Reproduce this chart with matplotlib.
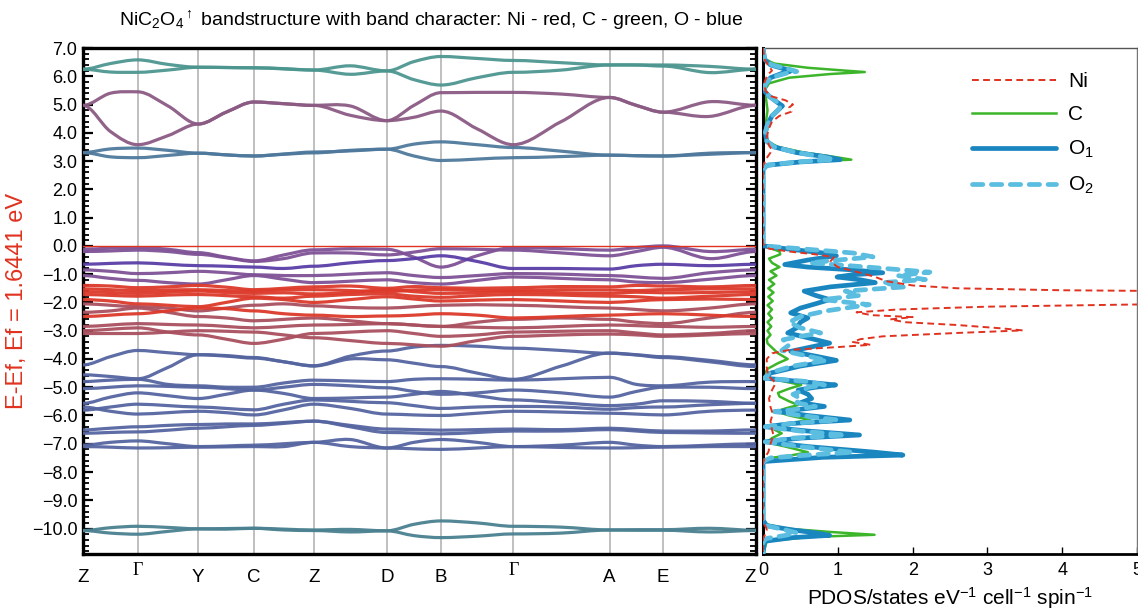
import numpy as np
import matplotlib
matplotlib.use("Agg")
import matplotlib.pyplot as plt
from matplotlib.path import Path
from matplotlib.patches import PathPatch
from matplotlib import font_manager
from matplotlib.ticker import MultipleLocator, FuncFormatter

# ---- data -------------------------------------------------------------
# k-path (x positions along path) and labels
k_pos = [0, 54.5, 115, 170.5, 230, 303, 357, 429, 525, 578.5, 671]
k_labels = ["Z", "Γ", "Y", "C", "Z", "D", "B", "Γ", "A", "E", "Z"]

# bands: energies at each k-point and at each segment middle
# order: Z m Γ m Y m C m Z m D m B m Γ m A m E m Z
bands_teal = [
    [6.25, 6.45, 6.58, 6.42, 6.32, 6.31, 6.30, 6.27, 6.22, 6.37, 6.19, 6.52, 6.70, 6.63, 6.56, 6.48, 6.40, 6.40, 6.40, 6.35, 6.25],
    [6.25, 6.15, 6.14, 6.22, 6.32, 6.31, 6.30, 6.26, 6.22, 6.07, 6.19, 5.88, 5.69, 5.95, 6.14, 6.22, 6.40, 6.40, 6.36, 6.13, 6.25],
]
bands_mauve = [
    [4.97, 5.40, 5.45, 4.95, 4.31, 4.73, 5.09, 5.03, 4.97, 4.95, 4.43, 4.97, 5.42, 5.43, 5.43, 5.37, 5.25, 4.97, 4.73, 5.10, 4.97],
    [4.97, 4.05, 3.58, 3.90, 4.31, 4.73, 5.09, 5.03, 4.97, 4.62, 4.43, 4.55, 4.77, 4.14, 3.58, 4.40, 5.25, 4.97, 4.73, 4.58, 4.97],
]
bands_cond = [
    [3.30, 3.43, 3.46, 3.38, 3.28, 3.22, 3.18, 3.25, 3.32, 3.36, 3.42, 3.60, 3.68, 3.58, 3.48, 3.35, 3.21, 3.19, 3.18, 3.28, 3.30],
    [3.30, 3.15, 3.12, 3.20, 3.28, 3.22, 3.18, 3.24, 3.29, 3.38, 3.42, 3.18, 3.02, 3.07, 3.12, 3.16, 3.21, 3.19, 3.18, 3.24, 3.30],
]
bands_purple = [
    [-0.12, -0.08, -0.06, -0.12, -0.24, -0.40, -0.53, -0.32, -0.14, -0.10, -0.12, -0.40, -0.75, -0.35, -0.06, -0.10, -0.15, -0.06, 0.0, -0.20, -0.12],
    [-0.20, -0.18, -0.15, -0.20, -0.30, -0.42, -0.55, -0.45, -0.25, -0.25, -0.32, -0.22, -0.10, -0.12, -0.15, -0.25, -0.35, -0.20, -0.05, -0.45, -0.20],
    [-0.85, -0.90, -0.98, -0.95, -0.90, -0.95, -1.02, -1.05, -1.05, -1.00, -0.95, -1.05, -1.12, -1.05, -0.98, -1.00, -1.05, -1.10, -1.15, -0.95, -0.85],
    [-1.05, -1.15, -1.22, -1.30, -1.35, -1.20, -1.05, -1.18, -1.30, -1.25, -1.20, -1.30, -1.35, -1.22, -1.10, -1.15, -1.20, -1.28, -1.30, -1.18, -1.05],
]
bands_indigo = [
    [-0.65, -0.62, -0.60, -0.65, -0.70, -0.72, -0.75, -0.80, -0.72, -0.60, -0.52, -0.45, -0.35, -0.55, -0.80, -0.80, -0.82, -0.70, -0.65, -0.70, -0.65],
]
bands_red = [
    [-1.40, -1.42, -1.48, -1.45, -1.40, -1.46, -1.55, -1.50, -1.45, -1.42, -1.50, -1.44, -1.48, -1.50, -1.48, -1.44, -1.45, -1.40, -1.42, -1.45, -1.40],
    [-1.52, -1.55, -1.58, -1.56, -1.55, -1.58, -1.60, -1.56, -1.55, -1.58, -1.62, -1.56, -1.55, -1.58, -1.58, -1.55, -1.56, -1.58, -1.55, -1.52, -1.52],
    [-1.62, -1.65, -1.68, -1.64, -1.60, -1.65, -1.68, -1.66, -1.70, -1.65, -1.55, -1.62, -1.68, -1.66, -1.62, -1.66, -1.68, -1.64, -1.66, -1.65, -1.62],
    [-1.72, -1.75, -1.78, -1.74, -1.72, -1.76, -1.80, -1.85, -1.78, -1.72, -1.70, -1.78, -1.82, -1.76, -1.72, -1.74, -1.78, -1.80, -1.85, -1.78, -1.72],
    [-1.90, -1.95, -2.05, -2.10, -2.15, -2.00, -1.85, -1.90, -2.00, -1.90, -1.80, -1.88, -1.95, -1.92, -1.90, -1.95, -2.00, -1.95, -1.90, -1.88, -1.90],
    [-2.50, -2.45, -2.40, -2.30, -2.20, -2.22, -2.30, -2.40, -2.45, -2.50, -2.48, -2.45, -2.40, -2.45, -2.55, -2.50, -2.45, -2.42, -2.40, -2.45, -2.50],
]
bands_redmauve = [
    [-2.05, -2.10, -2.15, -2.20, -2.30, -2.20, -2.10, -2.05, -2.12, -2.18, -2.20, -2.15, -2.10, -2.08, -2.10, -2.15, -2.20, -2.25, -2.30, -2.20, -2.05],
    [-2.35, -2.30, -2.20, -2.35, -2.50, -2.55, -2.65, -2.60, -2.55, -2.65, -2.75, -2.80, -2.85, -2.70, -2.60, -2.55, -2.60, -2.70, -2.75, -2.55, -2.35],
    [-2.85, -2.80, -2.75, -2.78, -2.80, -2.85, -2.90, -2.85, -2.80, -2.78, -2.75, -2.80, -2.85, -2.88, -2.90, -2.85, -2.80, -2.82, -2.85, -2.88, -2.85],
    [-3.00, -2.95, -2.90, -3.05, -3.15, -3.30, -3.45, -3.30, -3.10, -3.05, -3.00, -3.10, -3.20, -3.15, -3.05, -3.02, -3.00, -3.08, -3.15, -3.10, -3.00],
    [-3.10, -3.10, -3.10, -3.05, -3.00, -3.02, -3.05, -3.15, -3.25, -3.35, -3.45, -3.50, -3.55, -3.35, -3.20, -3.15, -3.12, -3.15, -3.20, -3.15, -3.10],
]
bands_blue = [
    [-4.21, -3.92, -3.70, -3.78, -3.85, -3.90, -3.97, -4.10, -4.25, -4.00, -4.03, -4.15, -4.27, -4.50, -4.72, -4.25, -3.79, -3.85, -3.92, -4.05, -4.21],
    [-4.56, -4.62, -4.70, -4.30, -3.85, -3.88, -3.95, -4.10, -4.24, -3.90, -3.72, -3.58, -3.52, -3.55, -3.62, -3.70, -3.80, -3.86, -3.95, -4.10, -4.27],
    [-4.80, -4.75, -4.72, -4.90, -4.95, -5.00, -5.00, -4.85, -4.75, -4.78, -4.80, -4.72, -4.70, -4.72, -4.75, -4.70, -4.65, -4.90, -4.95, -4.82, -4.80],
    [-5.05, -5.00, -4.95, -4.97, -5.00, -5.05, -5.10, -5.00, -4.90, -4.95, -5.02, -5.15, -5.25, -5.20, -5.10, -5.20, -5.35, -5.15, -5.00, -5.00, -5.05],
    [-5.57, -5.35, -5.20, -5.30, -5.40, -5.25, -5.10, -5.22, -5.40, -5.38, -5.35, -5.25, -5.15, -5.30, -5.45, -5.55, -5.65, -5.60, -5.48, -5.50, -5.57],
    [-5.81, -5.70, -5.60, -5.65, -5.70, -5.75, -5.80, -5.60, -5.45, -5.50, -5.55, -5.65, -5.75, -5.70, -5.68, -5.70, -5.78, -5.72, -5.70, -5.62, -5.57],
    [-5.70, -5.85, -5.95, -5.90, -5.85, -5.90, -5.98, -5.80, -5.60, -5.75, -5.95, -5.98, -6.00, -5.92, -5.85, -5.88, -5.92, -5.95, -5.98, -5.85, -5.81],
    [-6.51, -6.45, -6.40, -6.35, -6.32, -6.30, -6.30, -6.25, -6.20, -6.35, -6.48, -6.50, -6.52, -6.50, -6.48, -6.50, -6.45, -6.50, -6.55, -6.55, -6.51],
    [-6.63, -6.60, -6.58, -6.52, -6.45, -6.40, -6.35, -6.28, -6.20, -6.40, -6.60, -6.62, -6.65, -6.60, -6.55, -6.55, -6.50, -6.55, -6.60, -6.62, -6.63],
    [-7.05, -6.95, -6.90, -7.00, -7.10, -7.08, -7.05, -7.00, -6.95, -6.85, -7.15, -6.95, -6.85, -6.95, -7.10, -7.05, -6.95, -7.05, -7.10, -7.05, -7.00],
    [-7.10, -7.12, -7.15, -7.14, -7.12, -7.11, -7.10, -7.10, -6.95, -7.10, -7.15, -7.18, -7.20, -7.15, -7.10, -7.13, -7.15, -7.14, -7.12, -7.10, -7.10],
]
bands_bottom = [
    [-10.07, -9.97, -9.92, -9.96, -10.01, -10.00, -9.99, -10.02, -10.05, -10.03, -10.08, -9.85, -9.73, -9.80, -9.92, -9.95, -10.05, -10.04, -10.04, -9.99, -10.06],
    [-10.07, -10.16, -10.20, -10.10, -10.01, -10.02, -9.99, -10.05, -10.07, -10.12, -10.08, -10.25, -10.32, -10.27, -10.19, -10.16, -10.05, -10.06, -10.06, -10.12, -10.07],
]

# PDOS (energy, value)
ni_e = [7.0, 6.6, 6.35, 6.2, 6.05, 5.8, 5.5, 5.3, 5.15, 5.0, 4.9, 4.75, 4.6, 4.4, 4.1, 3.8, 3.55, 3.4, 3.3, 3.15, 3.0, 2.85,
        0.1, 0.0, -0.1, -0.2, -0.3, -0.4, -0.55, -0.75, -0.95, -1.1, -1.25, -1.4, -1.5, -1.57, -1.62, -1.75, -1.9, -2.02,
        -2.08, -2.15, -2.25, -2.35, -2.45, -2.52, -2.6, -2.7, -2.8, -2.92, -2.99, -3.08, -3.2, -3.3, -3.4, -3.5, -3.58,
        -3.68, -3.8, -4.0, -4.3, -4.6, -4.85, -5.1, -5.4, -5.7, -5.95, -6.2, -6.5, -6.7, -7.0, -7.3, -7.5, -7.7,
        -9.8, -9.95, -10.05, -10.2, -10.35, -10.9]
ni_v = [0.0, 0.02, 0.08, 0.12, 0.06, 0.02, 0.03, 0.10, 0.30, 0.40, 0.35, 0.38, 0.22, 0.12, 0.07, 0.05, 0.08, 0.12, 0.10, 0.06, 0.03, 0.0,
        0.0, 0.02, 0.08, 0.35, 0.70, 0.95, 0.90, 1.00, 1.30, 1.50, 1.65, 2.00, 2.60, 4.00, 6.50, 9.0, 9.0, 6.5,
        4.8, 3.0, 1.8, 1.25, 1.45, 2.0, 1.7, 1.9, 2.6, 3.2, 3.47, 2.6, 1.6, 1.3, 1.2, 1.44, 1.0,
        0.35, 0.12, 0.05, 0.05, 0.07, 0.17, 0.12, 0.08, 0.10, 0.13, 0.10, 0.12, 0.14, 0.10, 0.07, 0.02, 0.0,
        0.0, 0.04, 0.05, 0.03, 0.0, 0.0]

c_e = [7.0, 6.6, 6.45, 6.3, 6.2, 6.15, 6.08, 5.95, 5.75, 5.5, 5.2, 4.8, 4.4, 4.0, 3.7, 3.5, 3.3, 3.15, 3.05, 2.98, 2.85, 2.7,
       0.0, -0.1, -0.2, -0.3, -0.45, -0.6, -0.75, -0.9, -1.05, -1.2, -1.35, -1.5, -1.65, -1.8, -1.95, -2.1, -2.25, -2.4,
       -2.55, -2.7, -2.85, -3.0, -3.15, -3.3, -3.45, -3.6, -3.8, -4.0, -4.15, -4.35, -4.6, -4.75, -4.92, -5.05, -5.2,
       -5.33, -5.5, -5.63, -5.75, -5.86, -6.0, -6.16, -6.3, -6.5, -6.63, -6.8, -6.95, -7.1, -7.3, -7.4, -7.5, -7.65,
       -9.7, -9.85, -10.0, -10.12, -10.22, -10.3, -10.45, -10.9]
c_v = [0.0, 0.03, 0.15, 0.6, 1.1, 1.36, 0.9, 0.35, 0.08, 0.02, 0.04, 0.06, 0.04, 0.03, 0.06, 0.2, 0.55, 0.95, 1.18, 0.6, 0.08, 0.0,
       0.0, 0.12, 0.22, 0.23, 0.08, 0.12, 0.22, 0.10, 0.18, 0.08, 0.15, 0.07, 0.14, 0.07, 0.13, 0.06, 0.12, 0.07,
       0.12, 0.06, 0.11, 0.06, 0.10, 0.05, 0.06, 0.12, 0.20, 0.33, 0.20, 0.06, 0.01, 0.20, 0.51, 0.35, 0.20,
       0.22, 0.35, 0.47, 0.30, 0.18, 0.35, 0.63, 0.30, 0.15, 0.25, 0.12, 0.05, 0.30, 0.60, 0.40, 0.10, 0.0,
       0.0, 0.05, 0.30, 0.90, 1.49, 0.60, 0.05, 0.0]

o1_e = [7.0, 6.6, 6.4, 6.25, 6.17, 6.1, 5.95, 5.7, 5.5, 5.3, 5.1, 4.95, 4.8, 4.6, 4.3, 4.0, 3.7, 3.5, 3.3, 3.15, 3.05, 2.97, 2.85, 2.7,
        0.0, -0.1, -0.25, -0.35, -0.5, -0.66, -0.75, -0.85, -0.95, -1.02, -1.1, -1.2, -1.3, -1.45, -1.6, -1.75, -1.9,
        -2.05, -2.2, -2.37, -2.55, -2.7, -2.9, -3.08, -3.25, -3.44, -3.6, -3.73, -3.9, -4.05, -4.25, -4.5, -4.68, -4.8,
        -4.92, -5.0, -5.1, -5.25, -5.4, -5.55, -5.68, -5.78, -5.86, -6.0, -6.16, -6.28, -6.4, -6.55, -6.69, -6.8, -6.93,
        -7.1, -7.3, -7.4, -7.48, -7.63, -9.7, -9.9, -10.05, -10.15, -10.24, -10.32, -10.45, -10.9]
o1_v = [0.0, 0.02, 0.10, 0.30, 0.36, 0.25, 0.10, 0.03, 0.01, 0.08, 0.18, 0.26, 0.20, 0.12, 0.06, 0.03, 0.05, 0.15, 0.45, 0.85, 1.03, 0.5, 0.05, 0.0,
        0.0, 0.30, 0.80, 0.98, 0.60, 0.29, 0.60, 1.20, 1.60, 1.20, 0.99, 1.30, 1.50, 0.90, 0.55, 0.70, 0.89,
        0.70, 0.50, 0.37, 0.60, 0.50, 0.45, 0.33, 0.60, 0.89, 0.60, 0.37, 0.70, 0.98, 0.50, 0.10, 0.02, 0.50,
        0.97, 0.70, 0.47, 0.60, 0.65, 0.50, 0.82, 0.50, 0.20, 0.60, 1.16, 0.40, 0.03, 0.60, 1.29, 0.50, 0.03,
        0.60, 1.50, 1.87, 0.80, 0.0, 0.0, 0.05, 0.40, 0.70, 0.89, 0.40, 0.02, 0.0]

o2_e = [7.0, 6.6, 6.4, 6.25, 6.17, 6.1, 5.95, 5.7, 5.5, 5.3, 5.1, 4.95, 4.8, 4.6, 4.3, 4.0, 3.7, 3.5, 3.3, 3.15, 3.05, 2.97, 2.85, 2.7,
        0.0, -0.1, -0.25, -0.39, -0.5, -0.6, -0.75, -0.93, -1.05, -1.19, -1.3, -1.45, -1.6, -1.75, -1.9, -2.08, -2.2,
        -2.3, -2.5, -2.7, -2.9, -3.08, -3.2, -3.32, -3.5, -3.7, -3.9, -4.05, -4.25, -4.5, -4.68, -4.8, -4.92, -5.0,
        -5.1, -5.25, -5.4, -5.55, -5.68, -5.8, -5.86, -6.0, -6.16, -6.28, -6.4, -6.55, -6.69, -6.8, -6.93, -7.1, -7.3,
        -7.4, -7.5, -7.63, -9.7, -9.9, -10.05, -10.15, -10.24, -10.35, -10.45, -10.9]
o2_v = [0.0, 0.02, 0.12, 0.35, 0.45, 0.30, 0.10, 0.03, 0.01, 0.08, 0.18, 0.24, 0.20, 0.12, 0.06, 0.03, 0.05, 0.15, 0.45, 0.80, 0.95, 0.45, 0.05, 0.0,
        0.0, 0.50, 1.20, 1.47, 1.00, 0.63, 1.40, 2.23, 1.80, 2.17, 1.60, 1.90, 1.10, 1.30, 0.80, 1.42, 1.10,
        0.84, 0.50, 0.35, 0.50, 0.77, 0.50, 0.27, 0.35, 0.25, 0.60, 0.85, 0.40, 0.08, 0.02, 0.60, 0.82, 0.60,
        0.55, 0.40, 0.50, 0.45, 0.70, 0.40, 0.15, 0.50, 1.00, 0.40, 0.03, 0.50, 1.10, 0.40, 0.03, 0.50, 1.20,
        0.60, 0.10, 0.0, 0.0, 0.05, 0.30, 0.45, 0.30, 0.05, 0.0, 0.0]

# ---- style ------------------------------------------------------------
names = set(font_manager.get_font_names())
BASE = "Liberation Sans" if "Liberation Sans" in names else "DejaVu Sans"
NARROW = "Liberation Sans Narrow" if "Liberation Sans Narrow" in names else BASE
SERIF = "Liberation Serif" if "Liberation Serif" in names else "DejaVu Serif"
plt.rcParams["font.family"] = [BASE, "DejaVu Sans"]
plt.rcParams["mathtext.fontset"] = "custom"
plt.rcParams["mathtext.rm"] = BASE
plt.rcParams["mathtext.it"] = BASE

RED = "#e0321f"

fig = plt.figure(figsize=(11.38, 6.10), dpi=100)
ax = fig.add_axes([0.0729, 0.0918, 0.5914, 0.8295])
ax2 = fig.add_axes([0.6705, 0.0918, 0.3287, 0.8295])

YMIN, YMAX = -10.9, 7.0


def band_path(xs, ys):
    # smooth curve through the read values, flat at the high-symmetry points
    n = len(xs)
    slope = [0.0] * n
    for i in range(1, n - 1, 2):
        slope[i] = (ys[i + 1] - ys[i - 1]) / (xs[i + 1] - xs[i - 1])
    verts = [(xs[0], ys[0])]
    codes = [Path.MOVETO]
    for i in range(n - 1):
        h = xs[i + 1] - xs[i]
        verts += [(xs[i] + h / 3, ys[i] + slope[i] * h / 3),
                  (xs[i + 1] - h / 3, ys[i + 1] - slope[i + 1] * h / 3),
                  (xs[i + 1], ys[i + 1])]
        codes += [Path.CURVE4] * 3
    return Path(verts, codes)


knots = []
for a, b in zip(k_pos[:-1], k_pos[1:]):
    knots += [a, (a + b) / 2]
knots.append(k_pos[-1])

groups = [
    (bands_bottom, "#4b8191"),
    (bands_blue, "#5565a0"),
    (bands_redmauve, "#a9505f"),
    (bands_purple, "#7f5296"),
    (bands_indigo, "#5a3ea6"),
    (bands_red, "#dd3a2a"),
    (bands_cond, "#4f799c"),
    (bands_mauve, "#8b5b84"),
    (bands_teal, "#4d9690"),
]
for blist, col in groups:
    for e in blist:
        ax.add_patch(PathPatch(band_path(knots, e), fill=False, edgecolor=col,
                               lw=2.3, alpha=0.95, capstyle="round", joinstyle="round", zorder=3))

for k in k_pos[1:-1]:
    ax.axvline(k, color="#b4b4b4", lw=1.2, zorder=1)
ax.axhline(0.0, color=RED, lw=1.0, zorder=4)

ax.set_xlim(k_pos[0], k_pos[-1])
ax.set_ylim(YMIN, YMAX)
ax.yaxis.set_major_locator(MultipleLocator(1.0))
ax.yaxis.set_minor_locator(MultipleLocator(0.2))
ax.yaxis.set_major_formatter(FuncFormatter(lambda v, p: f"{v:.1f}".replace("-", "\u2212")))
ax.tick_params(axis="y", which="major", direction="in", length=7, width=1.6, left=True, right=True,
               labelsize=13, pad=4)
ax.tick_params(axis="y", which="minor", direction="in", length=4, width=1.3, left=True, right=True)
ax.set_xticks([])
for s in ax.spines.values():
    s.set_linewidth(2.4)

for i, (k, lab) in enumerate(zip(k_pos, k_labels)):
    x = k - 6 if i == len(k_pos) - 1 else k
    if lab == "Γ":
        ax.text(x, -0.016, lab, transform=ax.get_xaxis_transform(), ha="center", va="top",
                fontsize=13, fontfamily=SERIF)
    else:
        ax.text(x, -0.03, lab, transform=ax.get_xaxis_transform(), ha="center", va="top",
                fontsize=13.5, fontfamily=NARROW)

ax.set_ylabel("E-Ef, Ef = 1.6441 eV", color=RED, fontsize=17)
ax.yaxis.set_label_coords(-0.082, 0.5)

fig.text(0.379, 0.967, r"NiC$_2$O$_4$$^{\uparrow}$ bandstructure with band character: Ni - red, C - green, O - blue",
         ha="center", va="center", fontsize=14, fontfamily=NARROW)

# ---- PDOS panel ------------------------------------------------------
ax2.plot(c_v, c_e, color="#3cb52a", lw=1.8, label="C", zorder=2)
ax2.plot(o1_v, o1_e, color="#1a86c0", lw=3.4, label="O$_1$", solid_capstyle="round",
         solid_joinstyle="round", zorder=3)
ax2.plot(o2_v, o2_e, color="#5bbde0", lw=3.4, ls=(0, (2.2, 1.8)), dash_capstyle="round",
         label="O$_2$", zorder=4)
ax2.plot(ni_v, ni_e, color=RED, lw=1.4, ls=(0, (3.5, 2.2)), label="Ni", zorder=5)

ax2.set_xlim(0, 5)
ax2.set_ylim(YMIN, YMAX)
ax2.set_yticks([])
ax2.set_xticks([0, 1, 2, 3, 4, 5])
ax2.tick_params(axis="x", direction="in", length=5, width=1, labelsize=13, pad=6)
ax2.spines["left"].set_linewidth(2.2)
ax2.spines["bottom"].set_linewidth(2.0)
ax2.spines["top"].set_linewidth(1.0)
ax2.spines["top"].set_color("#555555")
ax2.spines["right"].set_linewidth(1.0)
ax2.spines["right"].set_color("#777777")
ax2.set_xlabel(r"PDOS/states eV$^{-1}$ cell$^{-1}$ spin$^{-1}$", fontsize=15, labelpad=4)

h, l = ax2.get_legend_handles_labels()
order = [l.index("Ni"), l.index("C"), l.index("O$_1$"), l.index("O$_2$")]
ax2.legend([h[i] for i in order], [l[i] for i in order], loc="upper right",
           bbox_to_anchor=(0.935, 0.99), frameon=False, fontsize=15, handlelength=4.0,
           labelspacing=0.7, handletextpad=0.6)

fig.savefig("out.png", dpi=100)
